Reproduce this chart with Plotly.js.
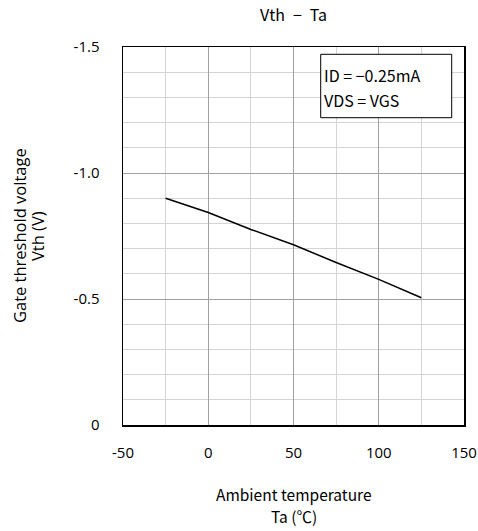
<!DOCTYPE html>
<html>
<head>
<meta charset="utf-8">
<script src="https://cdn.plot.ly/plotly-3.0.1.min.js"></script>
<style>
  html, body { margin: 0; padding: 0; background: #fff; }
  #chart { width: 478px; height: 531px; }
</style>
</head>
<body>
<div id="chart"></div>
<script>
// Gate threshold voltage vs. ambient temperature
const temperature = [-25, 0, 25, 50, 75, 100, 125];
const vth = [-0.90, -0.843, -0.776, -0.715, -0.645, -0.578, -0.505];

const xTicks = [-50, 0, 50, 100, 150];
const yTicks = [0, -0.5, -1.0, -1.5];
const yTickText = ['0', '-0.5', '-1.0', '-1.5'];

const xTitleLines = ['Ambient temperature', 'Ta (℃)'];
const yTitleLines = ['Gate threshold voltage', 'Vth (V)'];
const conditionLines = ['ID = −0.25mA', 'VDS = VGS'];

const jpFont = '"Noto Sans CJK JP", "DejaVu Sans", sans-serif';
const latinFont = '"Open Sans", "Liberation Sans", sans-serif';

// plot area in pixels
const W = 478, H = 531;
const M = { l: 123, r: 14, t: 47, b: 106 };
const PW = W - M.l - M.r, PH = H - M.t - M.b;
const px = v => (v - M.l) / PW;        // pixel x -> paper x
const py = v => 1 - (v - M.t) / PH;    // pixel y -> paper y

const trace = {
  x: temperature,
  y: vth,
  mode: 'lines',
  type: 'scatter',
  line: { color: '#000', width: 1.5 },
  hoverinfo: 'skip'
};

const annotations = [];
// x-axis title, two lines
xTitleLines.forEach((t, i) => annotations.push({
  text: t, xref: 'paper', yref: 'paper',
  x: 0.5, y: py(494 + i * 22), xanchor: 'center', yanchor: 'middle',
  showarrow: false, font: { family: jpFont, size: 15.5, color: '#000' }
}));
// y-axis title, two rotated lines
yTitleLines.forEach((t, i) => annotations.push({
  text: t, xref: 'paper', yref: 'paper',
  x: px(19 + i * 18), y: py(236), xanchor: 'center', yanchor: 'middle',
  textangle: -90,
  showarrow: false, font: { family: latinFont, size: 16.5, color: '#000' }
}));
// measurement conditions inside the framed box
conditionLines.forEach((t, i) => annotations.push({
  text: t, xref: 'paper', yref: 'paper',
  x: px(322), y: py(75 + i * 25), xanchor: 'left', yanchor: 'middle',
  showarrow: false, font: { family: jpFont, size: 16, color: '#000' }
}));

const layout = {
  width: W,
  height: H,
  margin: M,
  paper_bgcolor: '#fff',
  plot_bgcolor: '#fff',
  showlegend: false,
  title: {
    text: 'Vth\u2002−\u2002Ta',
    font: { family: jpFont, size: 16, color: '#000' },
    x: 0.5, xref: 'paper', xanchor: 'center',
    y: 1 - 15 / H, yref: 'container', yanchor: 'middle'
  },
  xaxis: {
    range: [-50, 150],
    tickvals: xTicks,
    ticktext: xTicks.map(String),
    ticks: '',
    ticklabelstandoff: 13,
    tickfont: { family: latinFont, size: 15, color: '#000' },
    showgrid: true,
    gridcolor: '#a0a0a0',
    gridwidth: 1,
    minor: { dtick: 25, tick0: -50, showgrid: true, gridcolor: '#d4d4d4', gridwidth: 1 },
    zeroline: false,
    showline: true,
    linecolor: '#000',
    linewidth: 1.5,
    mirror: true
  },
  yaxis: {
    range: [0, -1.5],
    tickvals: yTicks,
    ticktext: yTickText,
    ticks: '',
    ticklabelstandoff: 19,
    tickfont: { family: latinFont, size: 15, color: '#000' },
    showgrid: true,
    gridcolor: '#a0a0a0',
    gridwidth: 1,
    minor: { dtick: 0.1, tick0: 0, showgrid: true, gridcolor: '#d4d4d4', gridwidth: 1 },
    zeroline: false,
    showline: true,
    linecolor: '#000',
    linewidth: 1.5,
    mirror: true
  },
  shapes: [{
    type: 'rect', xref: 'paper', yref: 'paper',
    x0: px(320.7), x1: px(451.7), y0: py(54.3), y1: py(117.7),
    fillcolor: '#fff', line: { color: '#000', width: 1 }, layer: 'above'
  }],
  annotations: annotations
};

Plotly.newPlot('chart', [trace], layout, { displayModeBar: false, staticPlot: true });
</script>
</body>
</html>
